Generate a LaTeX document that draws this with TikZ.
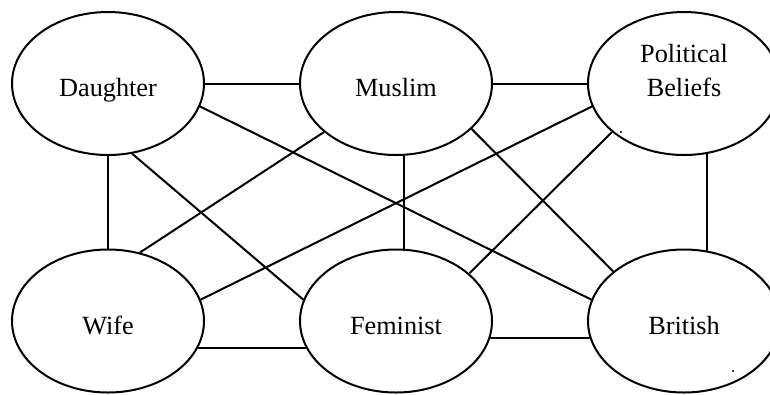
\documentclass[tikz,border=0pt]{standalone}
\usepackage{fontspec}
\setmainfont{Liberation Serif}
\usetikzlibrary{shapes.geometric}

\begin{document}
\begin{tikzpicture}[x=0.75pt,y=-0.75pt,
    font=\fontsize{19.7pt}{25.5pt}\selectfont,
    role/.style={draw,ellipse,line width=1.5pt,inner sep=0pt,
      minimum width=144pt,minimum height=107.25pt,
      text height=22pt,text depth=2pt},
    link/.style={line width=1.5pt}]
    \useasboundingbox (0,0) rectangle (770,394);
    % top row
    \node[role] (daughter) at (108,83.5) {Daughter};
    \node[role] (muslim) at (396,83.5) {Muslim};
    \node[role,align=center] (political) at (684,83.5) {Political\\Beliefs};
    % bottom row
    \node[role] (wife) at (108,321) {Wife};
    \node[role] (feminist) at (396,321) {Feminist};
    \node[role] (british) at (684,321) {British};
    % straight links
    \draw[link] (daughter.east) -- (muslim.west);
    \draw[link] (muslim.east) -- (political.west);
    \draw[link] (daughter.south) -- (wife.north);
    \draw[link] (muslim.-84) -- (feminist.84);
    \draw[link] (political.-72) -- (british.72);
    \draw[link] (wife.-17) -- (feminist.197);
    \draw[link] (feminist.-10) -- (british.190);
    % crossing links
    \draw[link] (daughter.-14) -- (british.167);
    \draw[link] (daughter.-71) -- (feminist.167);
    \draw[link] (muslim.214) -- (wife.65);
    \draw[link] (political.194) -- (wife.13);
    \draw[link] (political.214) -- (feminist.33);
    \draw[link] (muslim.-31) -- (british.145);
    % stray dots
    \fill (621,132) circle (0.9pt);
    \fill (733,371) circle (0.9pt);
\end{tikzpicture}
\end{document}
